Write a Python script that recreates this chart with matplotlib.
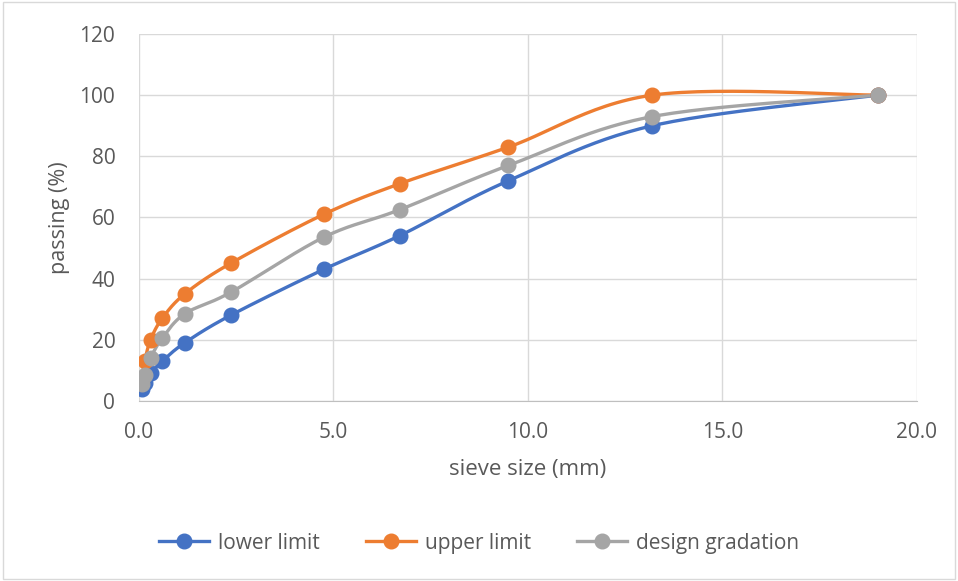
import numpy as np
import matplotlib.pyplot as plt
from matplotlib.lines import Line2D
from matplotlib.patches import Rectangle

# sieve sizes (mm) and percent passing for each gradation band
sieve_mm = [0.075, 0.15, 0.3, 0.6, 1.18, 2.36, 4.75, 6.7, 9.5, 13.2, 19.0]
lower_limit = [4, 6, 9, 13, 19, 28, 43, 54, 72, 90, 100]
upper_limit = [7, 13, 20, 27, 35, 45, 61, 71, 83, 100, 100]
design_gradation = [5.5, 8.5, 14, 20.5, 28.5, 35.5, 53.5, 62.5, 77, 93, 100]

series_names = ["lower limit", "upper limit", "design gradation"]
series_colors = ["#4472C4", "#ED7D31", "#A5A5A5"]

plt.rcParams['font.family'] = ['Open Sans', 'DejaVu Sans']
txt = '#595959'


def smooth(x, y, n=30):
    # piecewise cubic bezier through the points, spreadsheet-style smoothing
    x = np.asarray(x, float)
    y = np.asarray(y, float)
    px, py = [], []
    m = len(x)
    for i in range(m - 1):
        x0, y0 = (x[i - 1], y[i - 1]) if i > 0 else (x[i], y[i])
        x3, y3 = (x[i + 2], y[i + 2]) if i + 2 < m else (x[i + 1], y[i + 1])
        c1x = x[i] + (x[i + 1] - x0) / 6
        c1y = y[i] + (y[i + 1] - y0) / 6
        c2x = x[i + 1] - (x3 - x[i]) / 6
        c2y = y[i + 1] - (y3 - y[i]) / 6
        t = np.linspace(0, 1, n)
        a = (1 - t) ** 3
        b = 3 * (1 - t) ** 2 * t
        c = 3 * (1 - t) * t ** 2
        d = t ** 3
        px.extend(a * x[i] + b * c1x + c * c2x + d * x[i + 1])
        py.extend(a * y[i] + b * c1y + c * c2y + d * y[i + 1])
    return np.array(px), np.array(py)


fig = plt.figure(figsize=(9.58, 5.81), dpi=100)
fig.patches.append(Rectangle((0.003, 0.003), 0.994, 0.994, transform=fig.transFigure,
                             fill=False, edgecolor='#d9d9d9', linewidth=1))
ax = fig.add_axes([0.145, 0.31, 0.812, 0.6315])

handles = []
for vals, name, col in zip([lower_limit, upper_limit, design_gradation], series_names, series_colors):
    sx, sy = smooth(sieve_mm, vals)
    ax.plot(sx, sy, color=col, linewidth=2.4, zorder=3, solid_capstyle='round')
    ax.plot(sieve_mm, vals, 'o', color=col, markersize=10.5, zorder=4)
    handles.append(Line2D([], [], color=col, linewidth=2.4, marker='o', markersize=10.5))

ax.set_xlim(0, 20)
ax.set_ylim(0, 120)
ax.set_xticks(np.arange(0, 20.1, 5))
ax.set_xticklabels(["%.1f" % v for v in np.arange(0, 20.1, 5)])
ax.set_yticks(np.arange(0, 121, 20))
ax.grid(True, color='#d9d9d9', linewidth=1)
ax.set_axisbelow(True)
for s in ['top', 'right', 'left']:
    ax.spines[s].set_visible(False)
ax.spines['bottom'].set_color('#bfbfbf')
ax.tick_params(length=0, labelsize=15, colors=txt)
ax.tick_params(axis='y', pad=17)
ax.tick_params(axis='x', pad=15)
ax.set_xlabel("sieve size (mm)", fontsize=16, color=txt, labelpad=12)
ax.set_ylabel("passing (%)", fontsize=15.5, color=txt, labelpad=7)

fig.legend(handles, series_names, loc='center', bbox_to_anchor=(0.5, 0.065), ncol=3,
           frameon=False, fontsize=15, labelcolor=txt, handlelength=2.4,
           columnspacing=2.2, handletextpad=0.45)

fig.savefig("out.png", dpi=100)
